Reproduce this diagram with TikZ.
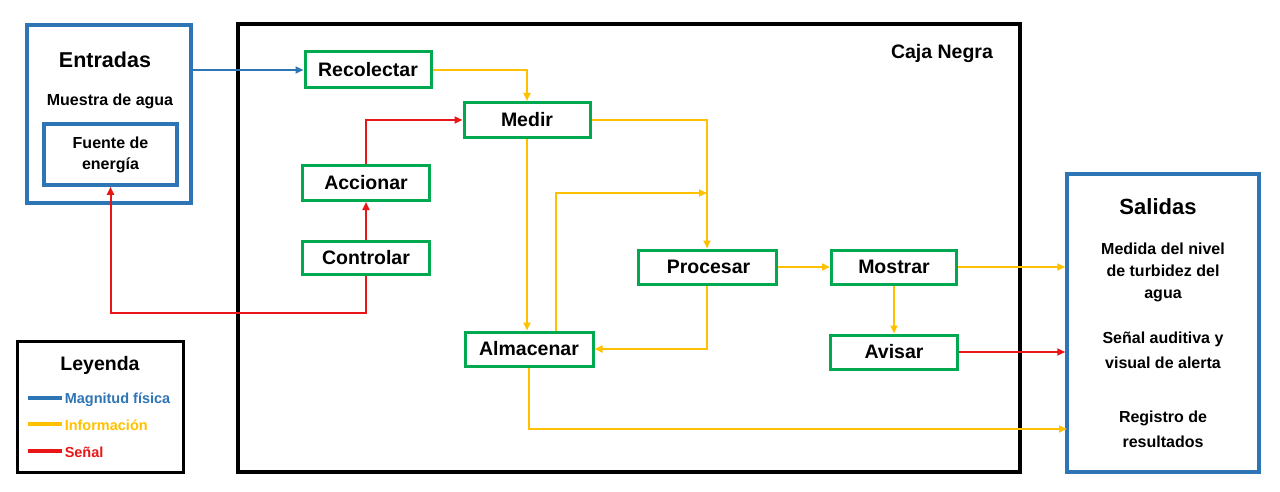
\documentclass[tikz,border=0pt]{standalone}
\usepackage{fontspec}
\setmainfont{Liberation Sans}
\usetikzlibrary{arrows.meta}
\definecolor{physcolor}{RGB}{46, 117, 182}
\definecolor{infocolor}{RGB}{255, 192, 0}
\definecolor{signalcolor}{RGB}{232, 22, 22}
\definecolor{stepcolor}{RGB}{0, 168, 80}

\tikzset{
  stepbox/.style={draw=stepcolor, line width=3pt, fill=white, inner sep=0pt,
    font=\bfseries\fontsize{19.5}{22}\selectfont},
  phys/.style={draw=physcolor, line width=2pt, -{Triangle[length=8pt,width=7pt]}},
  info/.style={draw=infocolor, line width=2pt, -{Triangle[length=8pt,width=7pt]}},
  signal/.style={draw=signalcolor, line width=2pt, -{Triangle[length=8pt,width=7pt]}},
  outerbox/.style={draw=physcolor, line width=3.5pt, inner sep=0pt},
  smalltext/.style={font=\bfseries\fontsize{16}{22}\selectfont, align=center},
  legendtext/.style={right, inner sep=1pt, yshift=-1.5pt, font=\bfseries\fontsize{14.5}{16}\selectfont},
}

\begin{document}
\begin{tikzpicture}[x=1pt, y=-1pt]
        \useasboundingbox (0, 0) rectangle (1280, 492);

        % Caja negra
        \node[draw=black, line width=4.5pt, minimum width=782pt, minimum height=448pt, inner sep=0pt] (caja) at (629, 248) {};
        \node[font=\bfseries\fontsize{19.5}{22}\selectfont] at (942, 54) {Caja Negra};

        % Entradas
        \node[outerbox, minimum width=164pt, minimum height=178pt] (entradas) at (109, 114) {};
        \node[font=\bfseries\fontsize{21.5}{24}\selectfont] at (105, 60) {Entradas};
        \node[smalltext] at (110, 101) {Muestra de agua};
        \node[outerbox, minimum width=133pt, minimum height=61pt, smalltext, font=\bfseries\fontsize{16}{21}\selectfont] (fuente) at (110.5, 154.5) {Fuente de\\energía};

        % Salidas
        \node[outerbox, minimum width=192pt, minimum height=298pt] (salidas) at (1163, 323) {};
        \node[font=\bfseries\fontsize{22}{24}\selectfont] at (1158, 207) {Salidas};
        \node[smalltext, font=\bfseries\fontsize{16}{22}\selectfont] at (1163, 272) {Medida del nivel\\de turbidez del\\agua};
        \node[smalltext, font=\bfseries\fontsize{16}{25}\selectfont] at (1163, 350.5) {Señal auditiva y\\visual de alerta};
        \node[smalltext, font=\bfseries\fontsize{16}{25}\selectfont] at (1163, 429.5) {Registro de\\resultados};

        % Pasos
        \node[stepbox, minimum width=126pt, minimum height=36pt] (recolectar) at (368, 70) {Recolectar};
        \node[stepbox, minimum width=126pt, minimum height=35pt] (medir) at (527, 120) {Medir};
        \node[stepbox, minimum width=127pt, minimum height=35pt] (accionar) at (366, 183) {Accionar};
        \node[stepbox, minimum width=127pt, minimum height=33pt] (controlar) at (366, 257.5) {Controlar};
        \node[stepbox, minimum width=138pt, minimum height=34pt] (procesar) at (707, 267) {\hspace{3pt}Procesar};
        \node[stepbox, minimum width=125pt, minimum height=34pt] (mostrar) at (894, 267) {Mostrar\hspace{24pt}};
        \node[stepbox, minimum width=128pt, minimum height=34pt] (almacenar) at (529, 349) {Almacenar};
        \node[stepbox, minimum width=127pt, minimum height=34pt] (avisar) at (894, 352) {Avisar\hspace{24pt}};

        \coordinate (union) at (707, 193);
        \coordinate (registro) at (1067, 429);

        % Conectores
        \draw[phys] (entradas.east |- recolectar.west) -- (recolectar.west);
        \draw[info] (recolectar.east) -| (medir.north);
        \draw[info] (medir.east) -| (procesar.north);
        \draw[info] (medir.south) -- (medir.south |- almacenar.north);
        \draw[info] ([xshift=27pt]almacenar.north) |- (union);
        \draw[info] (procesar.south) |- (almacenar.east);
        \draw[info] (procesar.east) -- (mostrar.west);
        \draw[info] (mostrar.south) -- (avisar.north);
        \draw[info] (mostrar.east) -- (mostrar.east -| salidas.west);
        \draw[signal] (avisar.east) -- (avisar.east -| salidas.west);
        \draw[info] (almacenar.south) |- (registro);
        \draw[signal] (accionar.north) |- (medir.west);
        \draw[signal] (controlar.north) -- (accionar.south);
        \draw[signal] (controlar.south) -- ++(0, 37) -| (fuente.south);

        % Leyenda {{{
        \node[draw=black, line width=3pt, minimum width=166pt, minimum height=131pt, inner sep=0pt] (leyenda) at (100, 406.5) {};
        \node[font=\bfseries\fontsize{19.5}{22}\selectfont] at (100, 365) {Leyenda};
        \draw[physcolor, line width=3.5pt] (28, 398) -- (62, 398) node[legendtext, physcolor]{Magnitud física};
        \draw[infocolor, line width=3.5pt] (28, 424) -- (62, 424) node[legendtext, infocolor]{Información};
        \draw[signalcolor, line width=3.5pt] (28, 451) -- (62, 451) node[legendtext, signalcolor]{Señal};
        % }}}
\end{tikzpicture}
\end{document}
